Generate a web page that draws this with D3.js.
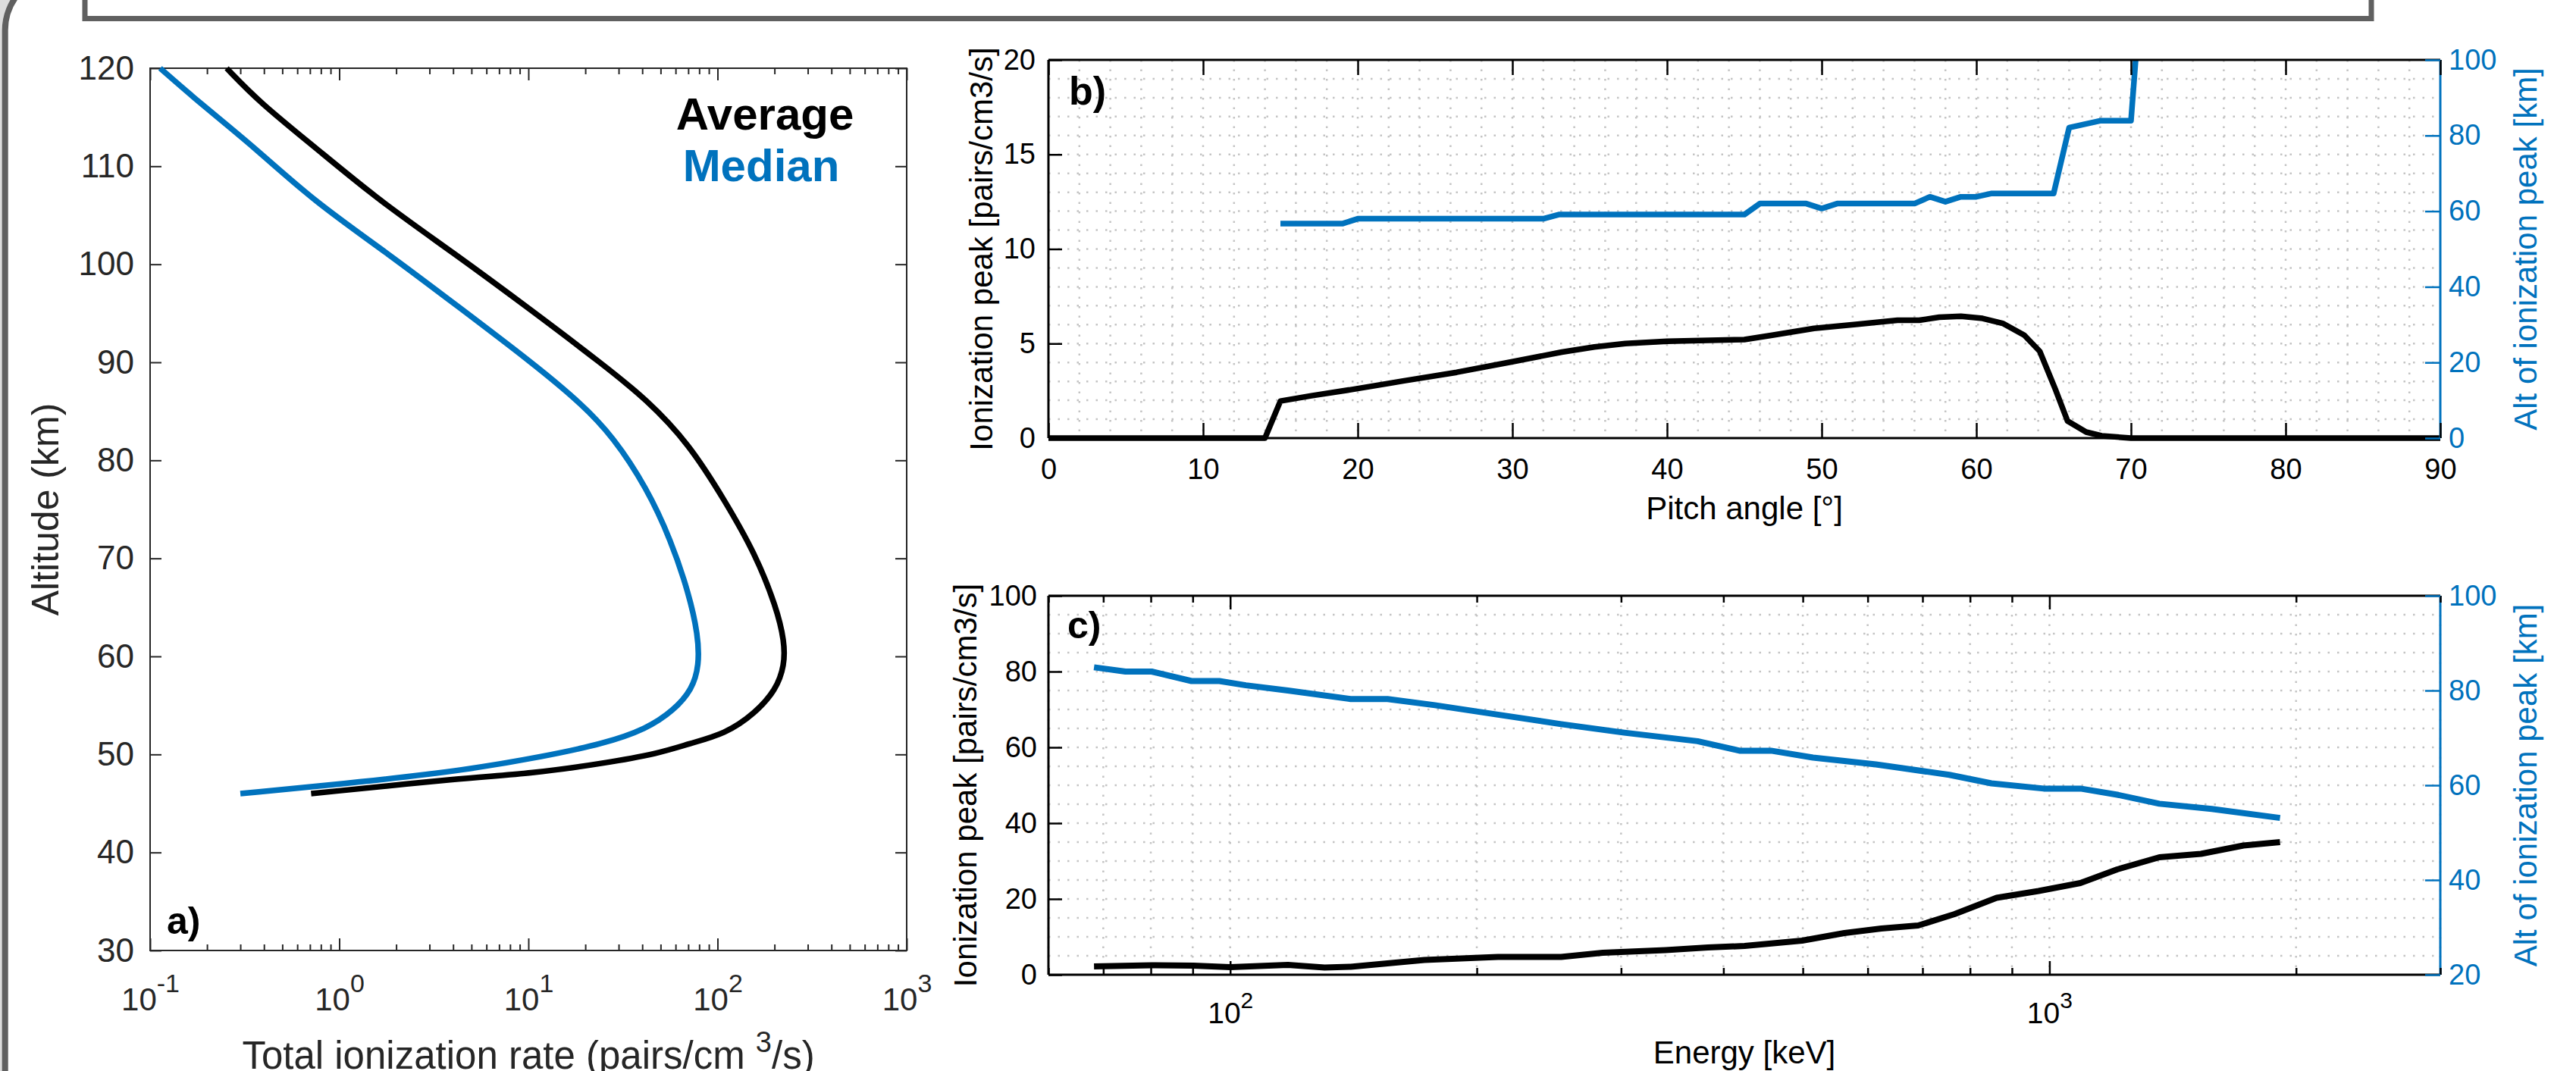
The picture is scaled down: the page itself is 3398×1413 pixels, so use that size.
<!DOCTYPE html>
<html>
<head>
<meta charset="utf-8">
<script src="https://cdn.jsdelivr.net/npm/d3@7"></script>
<style>
  body { margin: 0; background: #fff; }
  text { font-family: 'Liberation Sans', Arial, Helvetica, sans-serif; }
</style>
</head>
<body>
<script>
// ---- panel a: ionization rate profiles
var altAvg  = [120, 116.5, 112, 106.4, 101.2, 95.3, 89.7, 86.2, 81.7, 75.8, 70.5, 65, 61.5, 59.1, 56.6, 54.2, 52.1, 51.1, 50.1, 49.1, 48.05, 47.6, 46];
var rateAvg = [0.254, 0.38, 0.738, 1.65, 4.0, 10.4, 25.1, 42.2, 70.6, 110, 158, 205, 226, 226, 204, 158, 110, 70.6, 48.9, 25.1, 10.4, 4.6, 0.71];
var altMed  = [120, 116.5, 112, 106.4, 101.2, 95.6, 90.0, 85.9, 82.4, 77.2, 71.9, 66.4, 62.2, 59.1, 56.6, 54.5, 52.6, 51.1, 49.8, 48.4, 47.2, 46.0];
var rateMed = [0.113, 0.182, 0.353, 0.738, 1.78, 4.31, 10.4, 18.8, 28.1, 42.2, 56.6, 70.6, 78.9, 80.0, 73.3, 58.7, 42.2, 25.1, 12.1, 4.65, 1.33, 0.30];
var altTicks  = [30, 40, 50, 60, 70, 80, 90, 100, 110, 120];
var rateTicks = [0.1, 1, 10, 100, 1000];
var rateExp   = ['-1', '0', '1', '2', '3'];

// ---- panel b: versus pitch angle
var pitchB  = [0, 14, 15, 17, 19.7, 23, 26.4, 29.8, 33.2, 35.3, 37.3, 40, 45, 46.8, 49.5, 52.2, 54.9, 56.3, 57.6, 59, 60.4, 61.7, 63.1, 64.1, 65.1, 65.9, 67.1, 68.1, 70, 90];
var peakB   = [0, 0, 1.96, 2.24, 2.58, 3.03, 3.48, 4.01, 4.55, 4.82, 5.0, 5.12, 5.21, 5.44, 5.8, 6.01, 6.23, 6.23, 6.39, 6.44, 6.33, 6.07, 5.44, 4.59, 2.6, 0.9, 0.32, 0.12, 0, 0];
var pitchAltB = [15, 19, 20, 32, 33, 45, 46, 49, 50, 51, 56, 57, 58, 59, 60, 61, 65, 66, 67, 68, 70, 70.3];
var altB      = [56.7, 56.7, 58, 58, 59.1, 59.1, 62, 62, 60.7, 62, 62, 63.8, 62.5, 63.8, 63.8, 64.7, 64.7, 82.1, 83, 83.9, 83.9, 100];
var pitchTicks = [0, 10, 20, 30, 40, 50, 60, 70, 80, 90];
var peakTicksB = [0, 5, 10, 15, 20];
var altTicksB  = [0, 20, 40, 60, 80, 100];

// ---- panel c: versus energy
var energyC = [68.2, 80.2, 90.2, 100, 117.6, 130.4, 140.3, 172.6, 212.3, 253.5, 285, 340, 383, 424.6, 499, 562, 623.5, 691.6, 766, 862, 970, 1091, 1210, 1362, 1531, 1725, 1912];
var peakC   = [2.2, 2.5, 2.4, 2.0, 2.6, 1.9, 2.1, 3.9, 4.7, 4.7, 5.8, 6.5, 7.2, 7.6, 9.0, 11.0, 12.2, 13.0, 16.0, 20.3, 22.1, 24.2, 27.8, 31.0, 31.9, 34.1, 35.0];
var energyAltC = [68.2, 74.5, 80.2, 89.7, 97, 104.5, 117.6, 140.3, 155.6, 177.8, 212.3, 253.5, 302.7, 372, 418.4, 457.3, 514.5, 614, 754.7, 849.5, 984, 1091, 1210, 1362, 1578, 1912];
var altC       = [84.9, 84.0, 84.0, 82.0, 82.0, 81.1, 80.0, 78.2, 78.2, 76.9, 74.9, 72.9, 71.1, 69.3, 67.3, 67.3, 65.85, 64.4, 62.2, 60.4, 59.3, 59.3, 58.0, 56.1, 55.0, 53.1];
var energyTicks = [100, 1000];
var energyExp   = ['2', '3'];
var peakTicksC  = [0, 20, 40, 60, 80, 100];
var altTicksC   = [20, 40, 60, 80, 100];

var W = 3398, H = 1413;
var BLUE = '#0072BD', DARK = '#262626', GRID = '#c4c4c4';

var svg = d3.select('body')
  .append('svg')
    .attr('width', W)
    .attr('height', H)
    .style('display', 'block')
    .style('background', '#dcdcdc');

// window frame around the figure
svg.append('rect')
    .attr('x', 6.7).attr('y', -35)
    .attr('width', W + 300).attr('height', H + 300)
    .attr('rx', 75)
    .attr('fill', '#fff')
    .attr('stroke', '#606060')
    .attr('stroke-width', 8);
svg.append('rect')
    .attr('x', 112).attr('y', -60)
    .attr('width', 3016).attr('height', 84.5)
    .attr('fill', '#fff')
    .attr('stroke', '#606060')
    .attr('stroke-width', 7);

function logMinor(lo, hi) {
  var out = [];
  for (var e = Math.floor(Math.log10(lo)); e <= Math.ceil(Math.log10(hi)); e++) {
    for (var k = 2; k <= 9; k++) {
      var v = k * Math.pow(10, e);
      if (v >= lo && v <= hi) out.push(v);
    }
  }
  return out;
}

function styleAxis(g, color, fs, width) {
  g.select('.domain').remove();
  g.selectAll('.tick line').attr('stroke', color).attr('stroke-width', width);
  g.selectAll('.tick text').attr('fill', color).style('font-size', fs + 'px');
}

function supLabels(g, exps, fsSup, raise) {
  g.selectAll('.tick text').each(function (d, i) {
    var t = d3.select(this);
    t.text(null);
    t.append('tspan').text('10');
    t.append('tspan').attr('dy', -raise).style('font-size', fsSup + 'px').text(exps[i]);
  });
}

// ================= panel a =================
var pa = { l: 198, r: 1196, t: 90, b: 1254 };
var xA = d3.scaleLog().domain([0.1, 1000]).range([pa.l, pa.r]);
var yA = d3.scaleLinear().domain([30, 120]).range([pa.b, pa.t]);
var gA = svg.append('g');

gA.append('rect')
    .attr('x', pa.l).attr('y', pa.t)
    .attr('width', pa.r - pa.l).attr('height', pa.b - pa.t)
    .attr('fill', '#fff').attr('stroke', DARK).attr('stroke-width', 2);

var ayl = gA.append('g').attr('transform', 'translate(' + pa.l + ',0)')
    .call(d3.axisLeft(yA).tickValues(altTicks).tickSize(-15).tickPadding(21));
styleAxis(ayl, DARK, 44, 2);
var ayr = gA.append('g').attr('transform', 'translate(' + pa.r + ',0)')
    .call(d3.axisRight(yA).tickValues(altTicks).tickSize(-15).tickFormat(''));
styleAxis(ayr, DARK, 44, 2);

var axb = gA.append('g').attr('transform', 'translate(0,' + pa.b + ')')
    .call(d3.axisBottom(xA).tickValues(rateTicks).tickSize(-16).tickPadding(49));
styleAxis(axb, DARK, 42, 2);
supLabels(axb, rateExp, 34, 24);
var axbm = gA.append('g').attr('transform', 'translate(0,' + pa.b + ')')
    .call(d3.axisBottom(xA).tickValues(logMinor(0.1, 1000)).tickSize(-8).tickFormat(''));
styleAxis(axbm, DARK, 42, 2);
var axt = gA.append('g').attr('transform', 'translate(0,' + pa.t + ')')
    .call(d3.axisTop(xA).tickValues(rateTicks).tickSize(-16).tickFormat(''));
styleAxis(axt, DARK, 42, 2);
var axtm = gA.append('g').attr('transform', 'translate(0,' + pa.t + ')')
    .call(d3.axisTop(xA).tickValues(logMinor(0.1, 1000)).tickSize(-8).tickFormat(''));
styleAxis(axtm, DARK, 42, 2);

var lineA = d3.line()
    .x(function (d) { return xA(d[1]); })
    .y(function (d) { return yA(d[0]); })
    .curve(d3.curveBasis);

gA.append('path')
    .attr('d', lineA(d3.zip(altAvg, rateAvg)))
    .attr('fill', 'none').attr('stroke', '#000').attr('stroke-width', 7.5);
gA.append('path')
    .attr('d', lineA(d3.zip(altMed, rateMed)))
    .attr('fill', 'none').attr('stroke', BLUE).attr('stroke-width', 7.5);

gA.append('text').attr('x', 1009).attr('y', 171).attr('text-anchor', 'middle')
    .style('font-size', '60px').style('font-weight', 'bold').attr('fill', '#000').text('Average');
gA.append('text').attr('x', 1004).attr('y', 239).attr('text-anchor', 'middle')
    .style('font-size', '60px').style('font-weight', 'bold').attr('fill', BLUE).text('Median');
gA.append('text').attr('x', 220).attr('y', 1232)
    .style('font-size', '50px').style('font-weight', 'bold').attr('fill', '#000').text('a)');

gA.append('text')
    .attr('transform', 'translate(77,' + (pa.t + pa.b) / 2 + ') rotate(-90)')
    .attr('text-anchor', 'middle').style('font-size', '50px').attr('fill', DARK)
    .text('Altitude (km)');
var tA = gA.append('text')
    .attr('x', (pa.l + pa.r) / 2).attr('y', 1410)
    .attr('text-anchor', 'middle').style('font-size', '51px').attr('fill', DARK);
tA.append('tspan').text('Total ionization rate (pairs/cm ');
tA.append('tspan').attr('dy', -22).style('font-size', '38px').text('3');
tA.append('tspan').attr('dy', 22).text('/s)');

// ================= panels b and c (two y axes) =================
function gridLines(g, p, xs, ys, xScale, yScale) {
  g.selectAll(null).data(ys).join('line')
      .attr('x1', p.l).attr('x2', p.r)
      .attr('y1', function (d) { return yScale(d); })
      .attr('y2', function (d) { return yScale(d); })
      .attr('stroke', GRID).attr('stroke-width', 2.5).attr('stroke-dasharray', '2.5,10');
  g.selectAll(null).data(xs).join('line')
      .attr('y1', p.t).attr('y2', p.b)
      .attr('x1', function (d) { return xScale(d); })
      .attr('x2', function (d) { return xScale(d); })
      .attr('stroke', GRID).attr('stroke-width', 2.5).attr('stroke-dasharray', '2.5,10');
}

function frame(g, p) {
  g.append('line').attr('x1', p.l).attr('x2', p.r).attr('y1', p.t).attr('y2', p.t)
      .attr('stroke', '#000').attr('stroke-width', 3);
  g.append('line').attr('x1', p.l).attr('x2', p.r).attr('y1', p.b).attr('y2', p.b)
      .attr('stroke', '#000').attr('stroke-width', 3);
  g.append('line').attr('x1', p.l).attr('x2', p.l).attr('y1', p.t).attr('y2', p.b)
      .attr('stroke', '#000').attr('stroke-width', 3);
  g.append('line').attr('x1', p.r).attr('x2', p.r).attr('y1', p.t).attr('y2', p.b)
      .attr('stroke', BLUE).attr('stroke-width', 3);
}

function yTitles(g, p, leftX) {
  var cy = (p.t + p.b) / 2;
  g.append('text')
      .attr('transform', 'translate(' + leftX + ',' + cy + ') rotate(-90)')
      .attr('text-anchor', 'middle').style('font-size', '42px').attr('fill', '#000')
      .text('Ionization peak [pairs/cm3/s]');
  g.append('text')
      .attr('transform', 'translate(3346,' + cy + ') rotate(-90)')
      .attr('text-anchor', 'middle').style('font-size', '42px').attr('fill', BLUE)
      .text('Alt of ionization peak [km]');
}

// ---- panel b
var pb = { l: 1383, r: 3219, t: 79, b: 578 };
var xB  = d3.scaleLinear().domain([0, 90]).range([pb.l, pb.r]);
var yB  = d3.scaleLinear().domain([0, 20]).range([pb.b, pb.t]);
var yB2 = d3.scaleLinear().domain([0, 100]).range([pb.b, pb.t]);
var gB = svg.append('g');

gridLines(gB, pb, d3.range(2, 90, 2), d3.range(1, 20, 1), xB, yB);

var lineB = d3.line()
    .x(function (d) { return xB(d[0]); })
    .y(function (d) { return yB(d[1]); });
var lineB2 = d3.line()
    .x(function (d) { return xB(d[0]); })
    .y(function (d) { return yB2(d[1]); });

gB.append('path')
    .attr('d', lineB(d3.zip(pitchB, peakB)))
    .attr('fill', 'none').attr('stroke', '#000').attr('stroke-width', 7.5)
    .attr('stroke-linejoin', 'round');
gB.append('path')
    .attr('d', lineB2(d3.zip(pitchAltB, altB)))
    .attr('fill', 'none').attr('stroke', BLUE).attr('stroke-width', 7.5)
    .attr('stroke-linejoin', 'round');

frame(gB, pb);

var bxb = gB.append('g').attr('transform', 'translate(0,' + pb.b + ')')
    .call(d3.axisBottom(xB).tickValues(pitchTicks).tickSize(-20).tickPadding(27));
styleAxis(bxb, '#000', 38, 2.5);
var bxt = gB.append('g').attr('transform', 'translate(0,' + pb.t + ')')
    .call(d3.axisTop(xB).tickValues(pitchTicks).tickSize(-20).tickFormat(''));
styleAxis(bxt, '#000', 38, 2.5);
var byl = gB.append('g').attr('transform', 'translate(' + pb.l + ',0)')
    .call(d3.axisLeft(yB).tickValues(peakTicksB).tickSize(-18).tickPadding(17));
styleAxis(byl, '#000', 38, 2.5);
var byr = gB.append('g').attr('transform', 'translate(' + pb.r + ',0)')
    .call(d3.axisRight(yB2).tickValues(altTicksB).tickSize(-20).tickPadding(11));
styleAxis(byr, BLUE, 38, 2.5);

gB.append('text').attr('x', 1410).attr('y', 138)
    .style('font-size', '52px').style('font-weight', 'bold').attr('fill', '#000').text('b)');
gB.append('text').attr('x', (pb.l + pb.r) / 2).attr('y', 685).attr('text-anchor', 'middle')
    .style('font-size', '42px').attr('fill', '#000').text('Pitch angle [°]');
yTitles(gB, pb, 1309);

// ---- panel c
var pc = { l: 1383, r: 3219, t: 786, b: 1286 };
var xC  = d3.scaleLog().domain([60, 3000]).range([pc.l, pc.r]);
var yC  = d3.scaleLinear().domain([0, 100]).range([pc.b, pc.t]);
var yC2 = d3.scaleLinear().domain([20, 100]).range([pc.b, pc.t]);
var gC = svg.append('g');

gridLines(gC, pc, logMinor(60, 3000).concat(energyTicks), d3.range(5, 100, 5), xC, yC);

var lineC = d3.line()
    .x(function (d) { return xC(d[0]); })
    .y(function (d) { return yC(d[1]); });
var lineC2 = d3.line()
    .x(function (d) { return xC(d[0]); })
    .y(function (d) { return yC2(d[1]); });

gC.append('path')
    .attr('d', lineC(d3.zip(energyC, peakC)))
    .attr('fill', 'none').attr('stroke', '#000').attr('stroke-width', 8)
    .attr('stroke-linejoin', 'round');
gC.append('path')
    .attr('d', lineC2(d3.zip(energyAltC, altC)))
    .attr('fill', 'none').attr('stroke', BLUE).attr('stroke-width', 8)
    .attr('stroke-linejoin', 'round');

frame(gC, pc);

var cxb = gC.append('g').attr('transform', 'translate(0,' + pc.b + ')')
    .call(d3.axisBottom(xC).tickValues(energyTicks).tickSize(-18).tickPadding(36));
styleAxis(cxb, '#000', 39, 2.5);
supLabels(cxb, energyExp, 30, 20);
var cxbm = gC.append('g').attr('transform', 'translate(0,' + pc.b + ')')
    .call(d3.axisBottom(xC).tickValues(logMinor(60, 3000)).tickSize(-9).tickFormat(''));
styleAxis(cxbm, '#000', 39, 2.5);
var cxt = gC.append('g').attr('transform', 'translate(0,' + pc.t + ')')
    .call(d3.axisTop(xC).tickValues(energyTicks).tickSize(-18).tickFormat(''));
styleAxis(cxt, '#000', 39, 2.5);
var cxtm = gC.append('g').attr('transform', 'translate(0,' + pc.t + ')')
    .call(d3.axisTop(xC).tickValues(logMinor(60, 3000)).tickSize(-9).tickFormat(''));
styleAxis(cxtm, '#000', 39, 2.5);
var cyl = gC.append('g').attr('transform', 'translate(' + pc.l + ',0)')
    .call(d3.axisLeft(yC).tickValues(peakTicksC).tickSize(-18).tickPadding(15));
styleAxis(cyl, '#000', 38, 2.5);
var cyr = gC.append('g').attr('transform', 'translate(' + pc.r + ',0)')
    .call(d3.axisRight(yC2).tickValues(altTicksC).tickSize(-20).tickPadding(11));
styleAxis(cyr, BLUE, 38, 2.5);

gC.append('text').attr('x', 1408).attr('y', 842)
    .style('font-size', '50px').style('font-weight', 'bold').attr('fill', '#000').text('c)');
gC.append('text').attr('x', (pc.l + pc.r) / 2).attr('y', 1403).attr('text-anchor', 'middle')
    .style('font-size', '42px').attr('fill', '#000').text('Energy [keV]');
yTitles(gC, pc, 1288);
</script>
</body>
</html>
